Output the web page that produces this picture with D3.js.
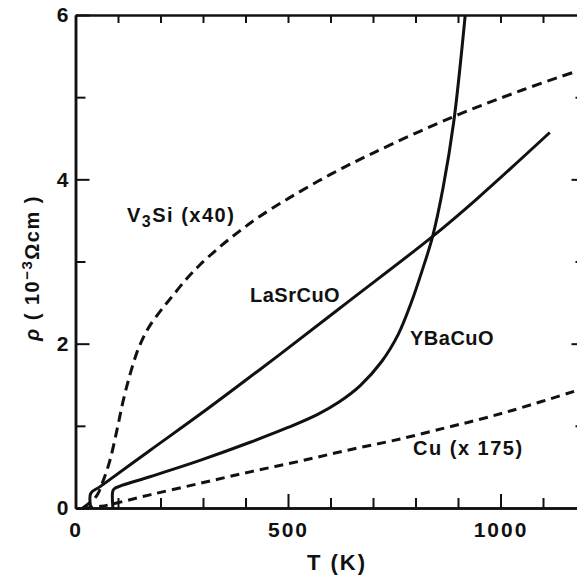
<!DOCTYPE html>
<html>
<head>
<meta charset="utf-8">
<script src="https://cdn.jsdelivr.net/npm/d3@7"></script>
<style>
  body { margin: 0; background: #fff; }
  text { font-family: "Liberation Sans", Arial, sans-serif; font-weight: bold; fill: #111; }
</style>
</head>
<body>
<div id="app"></div>
<script>
// curves: T in K, rho in 10^-3 ohm cm
const laTemp = [36, 36, 58, 175, 293, 394, 481, 639, 839, 944, 1116];
const laRho  = [0, 0.18, 0.26, 0.70, 1.14, 1.53, 1.87, 2.50, 3.30, 3.76, 4.57];

const ybTemp = [88, 88, 93, 175, 293, 411, 500, 570, 620, 670, 720, 760, 790, 815, 840, 865, 890, 917];
const ybRho  = [0, 0.21, 0.24, 0.38, 0.58, 0.80, 0.98, 1.14, 1.29, 1.49, 1.78, 2.12, 2.50, 2.88, 3.30, 3.90, 4.70, 6.0];

const vsTemp = [17, 30, 50, 65, 81, 98, 112, 128, 145, 160, 175, 200, 222, 260, 293, 340, 386, 434, 505, 600, 700, 888, 1053, 1170];
const vsRho  = [0, 0.05, 0.15, 0.33, 0.58, 0.96, 1.30, 1.62, 1.90, 2.08, 2.22, 2.40, 2.54, 2.78, 2.96, 3.18, 3.37, 3.55, 3.78, 4.06, 4.32, 4.76, 5.09, 5.30];

const cuTemp = [20, 60, 88, 175, 293, 411, 528, 646, 764, 874, 952, 1029, 1180];
const cuRho  = [0, 0.02, 0.05, 0.16, 0.30, 0.44, 0.57, 0.71, 0.84, 0.98, 1.08, 1.19, 1.43];

const xMajor = [0, 500, 1000];
const xMinor = [100, 200, 300, 400, 600, 700, 800, 900, 1100];
const yMajor = [0, 2, 4, 6];
const yMinor = [1, 3, 5];

let svgWidth = 577;
let svgHeight = 579;

let x = d3.scaleLinear().domain([0, 1200]).range([75.5, 585.5]);
let y = d3.scaleLinear().domain([0, 6]).range([508, 15]);

let svg = d3.select('#app').append('svg')
    .attr('width', svgWidth)
    .attr('height', svgHeight);

svg.append('rect').attr('width', svgWidth).attr('height', svgHeight).attr('fill', '#fff');

    //axes, ticks point inward on all four sides
function styleAxis(g) {
    g.select('.domain').attr('stroke', '#111').attr('stroke-width', 2.5);
    g.selectAll('.tick line').attr('stroke', '#111').attr('stroke-width', 2);
    g.selectAll('.tick text')
        .attr('font-size', 21)
        .attr('font-family', null)
        .attr('letter-spacing', 2);
}

let fmt = d3.format('d');

svg.append('g').attr('transform', `translate(0,${y(0)})`)
    .call(d3.axisBottom(x).tickValues(xMinor).tickSize(-10).tickSizeOuter(0).tickFormat(''))
    .call(styleAxis);
svg.append('g').attr('transform', `translate(0,${y(0)})`)
    .call(d3.axisBottom(x).tickValues(xMajor).tickSize(-14).tickSizeOuter(0).tickPadding(14).tickFormat(fmt))
    .call(styleAxis);

svg.append('g').attr('transform', `translate(0,${y(6)})`)
    .call(d3.axisTop(x).tickValues(d3.range(100, 1200, 100)).tickSize(-8).tickSizeOuter(0).tickFormat(''))
    .call(styleAxis);

svg.append('g').attr('transform', `translate(${x(0)},0)`)
    .call(d3.axisLeft(y).tickValues(yMinor).tickSize(-10).tickSizeOuter(0).tickFormat(''))
    .call(styleAxis);
svg.append('g').attr('transform', `translate(${x(0)},0)`)
    .call(d3.axisLeft(y).tickValues(yMajor).tickSize(-14).tickSizeOuter(0).tickPadding(5).tickFormat(fmt))
    .call(styleAxis);

svg.append('g').attr('transform', `translate(${x(1200)},0)`)
    .call(d3.axisRight(y).tickValues(yMinor).tickSize(-10).tickSizeOuter(0).tickFormat(''))
    .call(styleAxis);
svg.append('g').attr('transform', `translate(${x(1200)},0)`)
    .call(d3.axisRight(y).tickValues([2, 4]).tickSize(-14).tickSizeOuter(0).tickFormat(''))
    .call(styleAxis);

    //curves
let line = d3.line()
    .x(d => x(d[0]))
    .y(d => y(d[1]))
    .curve(d3.curveCatmullRom.alpha(0.5));

let series = [
    {t: laTemp, r: laRho, dash: null},
    {t: ybTemp, r: ybRho, dash: null},
    {t: vsTemp, r: vsRho, dash: '10,6'},
    {t: cuTemp, r: cuRho, dash: '9,6'}
];

svg.append('g').selectAll('path')
    .data(series)
    .enter().append('path')
        .attr('d', s => line(d3.zip(s.t, s.r)))
        .attr('fill', 'none')
        .attr('stroke', '#111')
        .attr('stroke-width', 3)
        .attr('stroke-dasharray', s => s.dash);

    //curve labels
let v3 = svg.append('text').attr('x', 127).attr('y', 222).attr('font-size', 20).attr('letter-spacing', 1.5);
v3.append('tspan').text('V');
v3.append('tspan').attr('dy', 5).attr('font-size', 16).text('3');
v3.append('tspan').attr('dy', -5).text('Si (x40)');

svg.append('text').attr('x', 250).attr('y', 302).attr('font-size', 20).attr('letter-spacing', 0.5).text('LaSrCuO');
svg.append('text').attr('x', 410).attr('y', 345).attr('font-size', 20).attr('letter-spacing', 0.5).text('YBaCuO');
svg.append('text').attr('x', 413).attr('y', 455).attr('font-size', 20).attr('letter-spacing', 1.5).text('Cu (x 175)');

    //axis titles
svg.append('text')
    .attr('x', 337).attr('y', 570)
    .attr('text-anchor', 'middle')
    .attr('font-size', 22)
    .attr('letter-spacing', 2)
    .text('T (K)');

let yTitle = svg.append('text')
    .attr('transform', 'translate(39,268) rotate(-90)')
    .attr('text-anchor', 'middle')
    .attr('font-size', 20)
    .attr('letter-spacing', 1.5);
yTitle.append('tspan').attr('font-style', 'italic').text('ρ');
yTitle.append('tspan').text(' ( 10');
yTitle.append('tspan').attr('dy', -7).attr('font-size', 15).text('−3');
yTitle.append('tspan').attr('dy', 7).text('Ωcm )');
</script>
</body>
</html>
